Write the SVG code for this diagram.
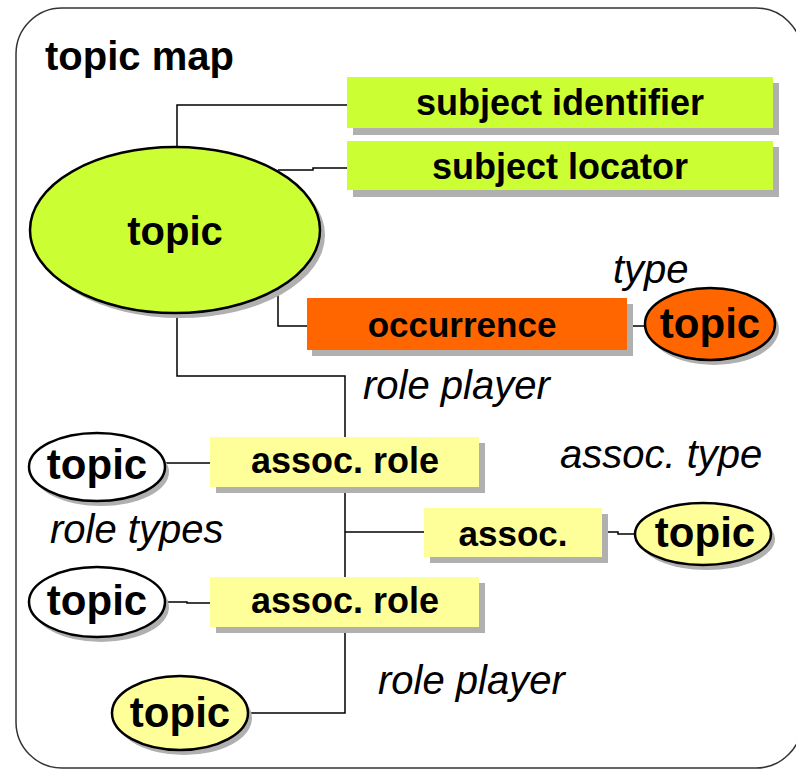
<svg xmlns="http://www.w3.org/2000/svg" width="796" height="770" viewBox="0 0 796 770">
<style>
.b{font-family:"Liberation Sans",Arial,sans-serif;font-weight:bold;fill:#000;text-anchor:middle}
.i{font-family:"Liberation Sans",Arial,sans-serif;font-style:italic;fill:#000;font-size:40px}
.sh{fill:#b0b0b0}
.ln{fill:none;stroke:#000;stroke-width:1.5}
.el{stroke:#000;stroke-width:2.5}
</style>
<rect x="16" y="8" width="786" height="760" rx="46" ry="46" fill="#fff" stroke="#333" stroke-width="1.5"/>
<text x="45" y="70" font-family="Liberation Sans, Arial, sans-serif" font-weight="bold" font-size="40">topic map</text>

<g id="connectors">
<polyline class="ln" points="177,148 177,105 348,105"/>
<polyline class="ln" points="278,170 313,170 313,168 348,168"/>
<polyline class="ln" points="278,292 278,326 307,326"/>
<polyline class="ln" points="627,326 646,326"/>
<polyline class="ln" points="177,312 177,376 345,376 345,713 248,713"/>
<polyline class="ln" points="165,463 210,463"/>
<polyline class="ln" points="165,602 187,602 187,603 210,603"/>
<polyline class="ln" points="345,532 424,532"/>
<polyline class="ln" points="602,532 618,532 618,534 636,534"/>
</g>

<g id="subject-identifier">
<rect class="sh" x="353" y="83" width="426" height="52"/>
<rect x="347" y="77" width="426" height="51" fill="#ccff33"/>
<text class="b" x="560" y="115" font-size="36">subject identifier</text>
</g>
<g id="subject-locator">
<rect class="sh" x="353" y="147" width="426" height="50"/>
<rect x="347" y="141" width="426" height="49" fill="#ccff33"/>
<text class="b" x="560" y="179" font-size="36">subject locator</text>
</g>

<g id="topic-main">
<ellipse class="sh" cx="180" cy="235" rx="145" ry="83"/>
<ellipse class="el" cx="175" cy="230" rx="145" ry="83" fill="#ccff33"/>
<text class="b" x="175" y="245" font-size="40">topic</text>
</g>

<g id="occurrence">
<rect class="sh" x="312" y="304" width="321" height="52"/>
<rect x="307" y="298" width="320" height="52" fill="#ff6600"/>
<text class="b" x="462" y="337" font-size="35">occurrence</text>
</g>
<text class="i" x="613" y="283">type</text>
<g id="topic-occ-type">
<ellipse class="sh" cx="714" cy="329" rx="65" ry="36"/>
<ellipse class="el" cx="710" cy="324" rx="65" ry="36" fill="#ff6600"/>
<text class="b" x="710" y="338" font-size="42">topic</text>
</g>

<text class="i" x="363" y="399">role player</text>

<g id="topic-role-type-1">
<ellipse class="sh" cx="101" cy="472" rx="68" ry="34"/>
<ellipse class="el" cx="97" cy="467" rx="68" ry="34" fill="#fff"/>
<text class="b" x="97" y="479" font-size="42">topic</text>
</g>
<g id="assoc-role-1">
<rect class="sh" x="216" y="443" width="269" height="50"/>
<rect x="210" y="437" width="269" height="50" fill="#ffff99"/>
<text class="b" x="345" y="473" font-size="36">assoc. role</text>
</g>

<text class="i" x="560" y="468">assoc. type</text>
<text class="i" x="50" y="543">role types</text>

<g id="assoc">
<rect class="sh" x="430" y="514" width="178" height="49"/>
<rect x="424" y="508" width="178" height="49" fill="#ffff99"/>
<text class="b" x="513" y="546" font-size="35">assoc.</text>
</g>
<g id="topic-assoc-type">
<ellipse class="sh" cx="707" cy="539" rx="68" ry="31"/>
<ellipse class="el" cx="703" cy="534" rx="68" ry="31" fill="#ffff99"/>
<text class="b" x="705" y="547" font-size="42">topic</text>
</g>

<g id="topic-role-type-2">
<ellipse class="sh" cx="101" cy="607" rx="68" ry="35"/>
<ellipse class="el" cx="97" cy="602" rx="68" ry="35" fill="#fff"/>
<text class="b" x="97" y="615" font-size="42">topic</text>
</g>
<g id="assoc-role-2">
<rect class="sh" x="216" y="583" width="269" height="50"/>
<rect x="210" y="577" width="269" height="50" fill="#ffff99"/>
<text class="b" x="345" y="613" font-size="36">assoc. role</text>
</g>

<text class="i" x="378" y="694">role player</text>

<g id="topic-player-2">
<ellipse class="sh" cx="184" cy="718" rx="68" ry="37"/>
<ellipse class="el" cx="180" cy="713" rx="68" ry="37" fill="#ffff99"/>
<text class="b" x="180" y="727" font-size="42">topic</text>
</g>
</svg>
